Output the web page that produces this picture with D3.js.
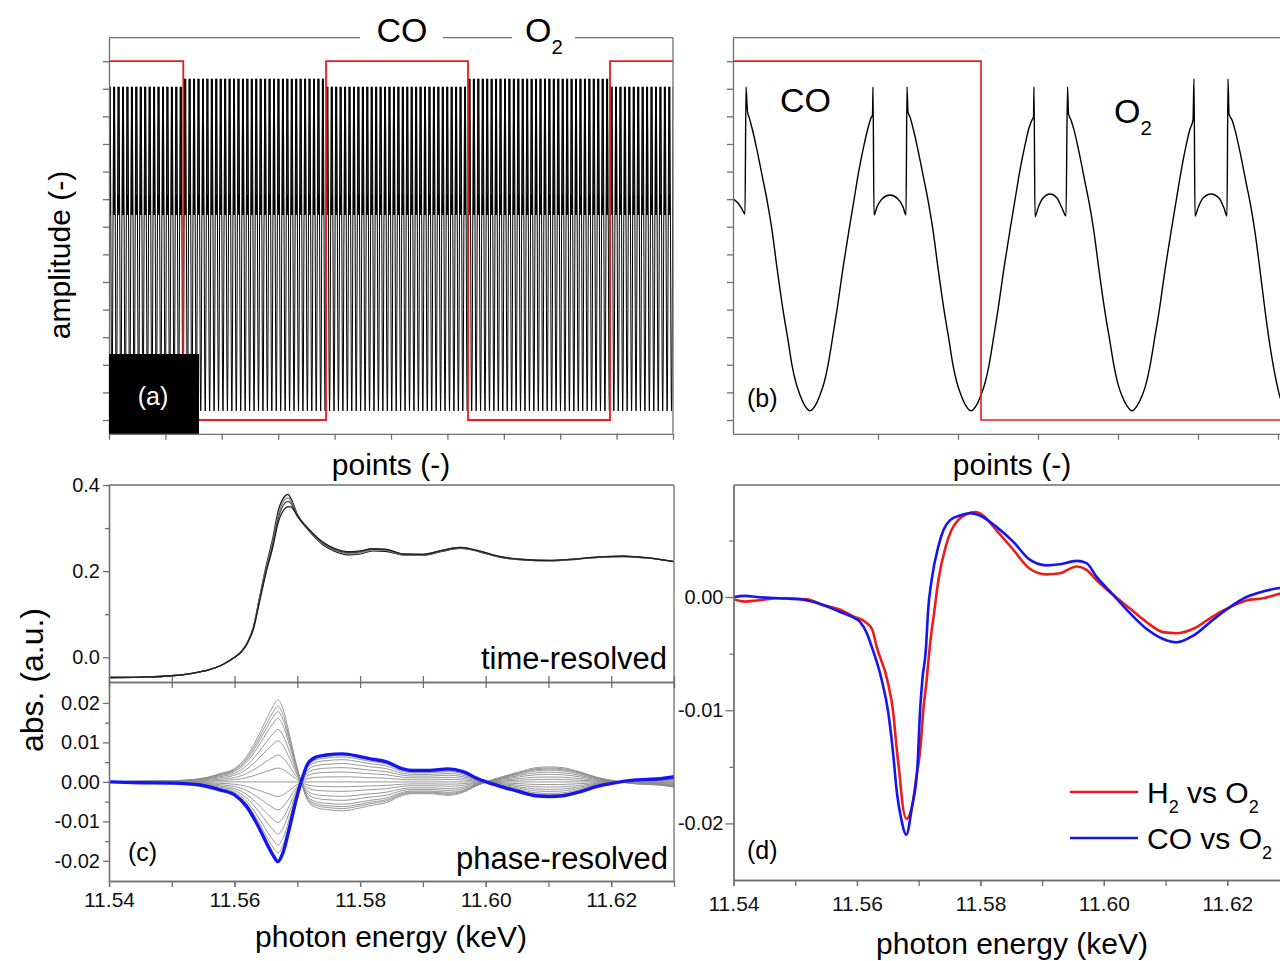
<!DOCTYPE html>
<html>
<head>
<meta charset="utf-8">
<script src="https://cdn.jsdelivr.net/npm/d3@7"></script>
<style>
  html, body { margin: 0; padding: 0; background: #fff; }
  svg { display: block; }
  text { white-space: pre; }
</style>
</head>
<body>
<svg id="fig" width="1280" height="961"></svg>
<script>
// ---------------- data ----------------

// (a) modulation record: one detector cycle (phase within the cycle, amplitude); null = spike top
const cyclePhase = [0, 0.062, 0.112, 0.168, 0.236, 0.311, 0.354, 0.385, 0.388, 0.394, 0.410, 0.441,
                    0.491, 0.540, 0.571, 0.593, 0.599, 0.606, 0.640, 0.683, 0.758, 0.826, 0.882, 0.932];
const cycleAmp   = [0.33, 0.91, 1.99, 3.99, 6.88, 9.42, 10.51, 11.05, null, 7.43, 7.72, 8.01,
                    8.15, 8.01, 7.72, 7.43, null, 11.05, 10.51, 9.42, 6.88, 3.99, 1.99, 0.91];
const spikeTop = { CO: 12.07, O2: 12.36 };
const aCyclePeriod = 7.875;      // points per cycle
const aFirstMin = 5.2;           // position of the first cycle minimum
const aGasStart = "CO";
const aGasSwitch = [131.7, 384.8, 636.5, 888.3];
const gasLevel = { CO: 13, O2: 0 };

// (b) single cycles, zoomed
const bPoints = [15, 20, 24, 27, 28, 29.5, 31, 34, 39, 45, 49, 54, 59, 65, 70, 74, 78, 82, 87, 92,
  97, 102, 106, 110, 115, 119, 125, 131, 136, 141, 146, 150, 153, 154.5, 155, 156, 159, 164, 172, 180,
  185, 188, 189, 190, 192, 195, 200, 206, 210, 215, 220, 226, 231, 235, 239, 243, 248, 253, 258, 263,
  267, 271, 276, 280, 286, 292, 297, 302, 307, 311, 314, 315.5, 316, 317, 320, 325, 332, 339, 344, 348,
  349.5, 350.5, 353, 356, 361, 367, 371, 376, 381, 387, 392, 396, 400, 404, 409, 414, 419, 424, 428, 432,
  437, 441, 447, 453, 458, 463, 468, 472, 475, 476, 477, 480, 485, 493, 501, 506, 509, 510, 511, 514,
  517, 522, 528, 532, 537, 542, 548, 553, 558, 562, 567, 572];
const bAmp = [8.01, 7.86, 7.64, 7.46, 12.07, 11.16, 10.98, 10.58, 9.78, 8.70, 7.97, 6.88, 5.51, 3.99, 2.90, 1.99, 1.34, 0.91, 0.51, 0.33,
  0.51, 0.91, 1.34, 1.99, 3.08, 3.99, 5.51, 6.88, 7.97, 9.06, 9.96, 10.58, 10.94, 11.05, 12.07, 7.43, 7.72, 8.01, 8.15, 8.01,
  7.72, 7.43, 12.07, 11.16, 10.98, 10.58, 9.78, 8.70, 7.97, 6.88, 5.51, 3.99, 2.90, 1.99, 1.34, 0.91, 0.51, 0.33, 0.51, 0.91,
  1.34, 1.99, 3.08, 3.99, 5.51, 6.88, 7.97, 9.06, 9.96, 10.58, 10.87, 10.98, 12.07, 7.36, 7.68, 8.04, 8.19, 8.04, 7.68, 7.39,
  12.07, 11.09, 10.87, 10.51, 9.71, 8.62, 7.90, 6.81, 5.43, 3.91, 2.83, 1.96, 1.30, 0.87, 0.51, 0.33, 0.51, 0.87, 1.30, 1.96,
  3.04, 3.91, 5.43, 6.81, 7.90, 8.99, 9.93, 10.54, 10.87, 12.36, 7.39, 7.68, 8.04, 8.19, 8.04, 7.68, 7.39, 12.36, 11.09, 10.87,
  10.51, 9.71, 8.62, 7.90, 6.81, 5.43, 3.70, 2.46, 1.45, 0.83, 0.47, 0.33];
const bGasSwitch = 263;

// (c) time-resolved spectra
const trEnergy = [11.540, 11.545, 11.550, 11.553, 11.556, 11.558, 11.560, 11.561, 11.562, 11.563,
  11.564, 11.565, 11.566, 11.567, 11.568, 11.5685, 11.569, 11.570, 11.572, 11.574,
  11.576, 11.578, 11.580, 11.582, 11.584, 11.587, 11.590, 11.593, 11.596, 11.599,
  11.602, 11.606, 11.610, 11.614, 11.618, 11.622, 11.626, 11.630];
const tr1 = [-0.047, -0.046, -0.043, -0.038, -0.029, -0.018, 0.000, 0.012, 0.033, 0.070,
  0.140, 0.210, 0.270, 0.342, 0.374, 0.378, 0.368, 0.332, 0.291, 0.262,
  0.246, 0.238, 0.240, 0.247, 0.246, 0.237, 0.237, 0.246, 0.253, 0.245,
  0.233, 0.226, 0.224, 0.227, 0.232, 0.234, 0.230, 0.222];
const tr2 = [-0.047, -0.046, -0.043, -0.038, -0.029, -0.018, 0.000, 0.012, 0.033, 0.069,
  0.138, 0.205, 0.263, 0.333, 0.366, 0.370, 0.362, 0.330, 0.292, 0.264,
  0.248, 0.240, 0.242, 0.249, 0.248, 0.238, 0.238, 0.247, 0.254, 0.246,
  0.234, 0.226, 0.224, 0.227, 0.232, 0.234, 0.230, 0.222];
const tr3 = [-0.047, -0.046, -0.043, -0.038, -0.029, -0.018, 0.000, 0.012, 0.032, 0.068,
  0.135, 0.200, 0.256, 0.325, 0.358, 0.362, 0.357, 0.329, 0.293, 0.266,
  0.250, 0.243, 0.245, 0.251, 0.250, 0.239, 0.239, 0.248, 0.255, 0.246,
  0.234, 0.227, 0.225, 0.228, 0.233, 0.235, 0.230, 0.222];
const tr4 = [-0.047, -0.046, -0.043, -0.038, -0.029, -0.018, 0.000, 0.011, 0.031, 0.065,
  0.130, 0.195, 0.250, 0.315, 0.345, 0.350, 0.349, 0.328, 0.295, 0.268,
  0.252, 0.245, 0.247, 0.252, 0.251, 0.240, 0.239, 0.248, 0.255, 0.247,
  0.235, 0.227, 0.225, 0.228, 0.233, 0.235, 0.231, 0.222];
const trColors = ["#151515", "#8a8a8a", "#4a4a4a", "#202020"];

// (c) phase-resolved spectra: reference (blue) spectrum and the peak value of each gray spectrum
const prEnergy = [11.540, 11.545, 11.550, 11.5545, 11.5576, 11.560, 11.5619, 11.5635, 11.5651, 11.5661,
  11.5669, 11.5677, 11.5688, 11.5698, 11.5706, 11.5717, 11.5730, 11.5746, 11.5772, 11.5800,
  11.5814, 11.5842, 11.5868, 11.5884, 11.5911, 11.5940, 11.5964, 11.5985, 11.6001, 11.6027,
  11.6054, 11.6080, 11.6102, 11.6123, 11.6150, 11.6176, 11.6203, 11.6240, 11.6277, 11.6300];
const prBlue = [0.0000, -0.0002, -0.0003, -0.0008, -0.0020, -0.0033, -0.0062, -0.0104, -0.0155, -0.0185,
  -0.0202, -0.0180, -0.0113, -0.0046, 0.0000, 0.0047, 0.0063, 0.0068, 0.0071, 0.0064,
  0.0059, 0.0051, 0.0033, 0.0029, 0.0029, 0.0033, 0.0026, 0.0010, 0.0000, -0.0013,
  -0.0025, -0.0035, -0.0037, -0.0035, -0.0025, -0.0012, -0.0003, 0.0005, 0.0008, 0.0013];
const prGrayPeak = [0.0208, 0.0192, 0.0178, 0.0161, 0.0133, 0.0104, 0.0068, 0.0035, 0.0000,
  -0.0037, -0.0071, -0.0103, -0.0132, -0.0160, -0.0180];

// (d) phase-resolved spectra for the two reductants
const dEnergyH2 = [11.5400, 11.5419, 11.5438, 11.5475, 11.5519, 11.5545, 11.5572, 11.5594, 11.5616, 11.5625,
  11.5632, 11.5649, 11.5659, 11.5664, 11.5670, 11.5672, 11.5680, 11.5690, 11.5696, 11.5703,
  11.5707, 11.5713, 11.5718, 11.5725, 11.5732, 11.5744, 11.5753, 11.5764, 11.5777, 11.5791,
  11.5799, 11.5826, 11.5853, 11.5880, 11.5907, 11.5929, 11.5956, 11.5972, 11.5988, 11.6015,
  11.6042, 11.6069, 11.6096, 11.6118, 11.6145, 11.6177, 11.6204, 11.6231, 11.6258, 11.6285, 11.6301];
const dH2 = [-0.0002, -0.0004, -0.0003, -0.0001, -0.0002, -0.0007, -0.0011, -0.0017, -0.0023, -0.0029,
  -0.0044, -0.0073, -0.0103, -0.0132, -0.0162, -0.0174, -0.0196, -0.0183, -0.0160, -0.0132,
  -0.0103, -0.0073, -0.0044, -0.0014, 0.0015, 0.0045, 0.0059, 0.0068, 0.0073, 0.0075,
  0.0074, 0.0059, 0.0042, 0.0025, 0.0020, 0.0021, 0.0027, 0.0024, 0.0015, 0.0002,
  -0.0010, -0.0022, -0.0031, -0.0032, -0.0028, -0.0017, -0.0009, -0.0003, -0.0001, 0.0003, 0.0005];
const dEnergyCO = [11.5400, 11.5419, 11.5438, 11.5475, 11.5519, 11.5545, 11.5572, 11.5594, 11.5605, 11.5616,
  11.5624, 11.5640, 11.5651, 11.5658, 11.5665, 11.5671, 11.5680, 11.5689, 11.5698, 11.5702,
  11.5706, 11.5712, 11.5715, 11.5721, 11.5732, 11.5740, 11.5751, 11.5767, 11.5783, 11.5799,
  11.5826, 11.5853, 11.5880, 11.5907, 11.5929, 11.5956, 11.5972, 11.5988, 11.6015, 11.6042,
  11.6069, 11.6096, 11.6118, 11.6145, 11.6177, 11.6204, 11.6231, 11.6258, 11.6285, 11.6301];
const dCO = [0.0000, 0.0001, 0.0000, -0.0001, -0.0003, -0.0007, -0.0013, -0.0018, -0.0022, -0.0032,
  -0.0044, -0.0073, -0.0103, -0.0135, -0.0174, -0.0194, -0.0210, -0.0186, -0.0150, -0.0103,
  -0.0073, -0.0044, -0.0014, 0.0015, 0.0045, 0.0059, 0.0068, 0.0072, 0.0074, 0.0072,
  0.0062, 0.0049, 0.0033, 0.0028, 0.0029, 0.0032, 0.0030, 0.0018, 0.0002, -0.0014,
  -0.0028, -0.0037, -0.0040, -0.0034, -0.0020, -0.0009, 0.0000, 0.0005, 0.0008, 0.0009];

// tick values
const aPointTicks = d3.range(0, 1001, 100);
const ampTicks = d3.range(0, 14);
const bPointTicks = d3.range(80, 561, 80);
const energyTicks = [11.54, 11.56, 11.58, 11.60, 11.62];
const energyMinorTicks = [11.54, 11.55, 11.56, 11.57, 11.58, 11.59, 11.60, 11.61, 11.62, 11.63];
const trTicks = [0.0, 0.2, 0.4];
const trMinorTicks = [0.1, 0.3];
const prTicks = [-0.02, -0.01, 0.00, 0.01, 0.02];
const prMinorTicks = [-0.015, -0.005, 0.005, 0.015];
const dTicks = [-0.02, -0.01, 0.00];
const dMinorTicks = [-0.015, -0.005, 0.005];

// ---------------- drawing ----------------
const FONT = "'Liberation Sans', Arial, Helvetica, sans-serif";
const AXC = "#6f6f6f";
const RED = "#ee1b1b";
const BLUE = "#1515f0";
const svg = d3.select("#fig");
const defs = svg.append("defs");

const xA = d3.scaleLinear().domain([0, 1000]).range([109, 673]);
const yAmp = d3.scaleLinear().domain([-0.5, 13.85]).range([433.8, 37.7]);
const xB = d3.scaleLinear().domain([15, 571]).range([733, 1289]);
const xC = d3.scaleLinear().domain([11.54, 11.63]).range([109, 674]);
const yCt = d3.scaleLinear().domain([-0.0575, 0.4]).range([682, 485]);
const yCb = d3.scaleLinear().domain([-0.0251, 0.0253]).range([881, 682]);
const xD = d3.scaleLinear().domain([11.54, 11.63]).range([733.5, 1289]);
const yD = d3.scaleLinear().domain([-0.025, 0.0099]).range([880, 485]);

function clip(id, x0, y0, x1, y1) {
  defs.append("clipPath").attr("id", id).append("rect")
    .attr("x", x0).attr("y", y0).attr("width", x1 - x0).attr("height", y1 - y0);
  return `url(#${id})`;
}
function drawAxis(gen, tx, ty, size) {
  const g = svg.append("g").attr("transform", `translate(${tx},${ty})`).call(gen);
  g.attr("font-family", FONT).attr("font-size", size || 20);
  g.select(".domain").attr("stroke", AXC).attr("stroke-width", 1.3);
  g.selectAll(".tick line").attr("stroke", AXC).attr("stroke-width", 1.3);
  g.selectAll(".tick text").attr("fill", "#111");
  return g;
}
function seg(x1, y1, x2, y2) {
  svg.append("line").attr("x1", x1).attr("y1", y1).attr("x2", x2).attr("y2", y2)
    .attr("stroke", AXC).attr("stroke-width", 1.3);
}
function richText(x, y, parts, size, opts) {
  opts = opts || {};
  const t = svg.append("text").attr("x", x).attr("y", y)
    .attr("font-family", FONT).attr("font-size", size)
    .attr("fill", opts.fill || "#000").attr("text-anchor", opts.anchor || "start");
  if (opts.rotate) t.attr("transform", `rotate(${opts.rotate},${x},${y})`);
  let low = false;
  parts.forEach(([s, sub]) => {
    const sp = t.append("tspan").text(s);
    if (sub && !low) { sp.attr("dy", size * 0.35).attr("font-size", size * 0.6); low = true; }
    else if (sub) { sp.attr("font-size", size * 0.6); }
    else if (low) { sp.attr("dy", -size * 0.35); low = false; }
  });
  return t;
}
const fmt2 = d => d.toFixed(2).replace("-0.00", "0.00");
const fmt1 = d => d.toFixed(1);

// ===== panel (a) =====
function gasAt(x, switches, start) {
  const n = switches.filter(s => s <= x).length;
  return (n % 2 === 0) ? start : (start === "CO" ? "O2" : "CO");
}
const aSeries = [];
for (let k = -1; aFirstMin + k * aCyclePeriod <= 1000 + aCyclePeriod; k++) {
  const c0 = aFirstMin + k * aCyclePeriod;
  cyclePhase.forEach((ph, i) => {
    const x = c0 + ph * aCyclePeriod;
    const amp = cycleAmp[i] === null ? spikeTop[gasAt(x, aGasSwitch, aGasStart)] : cycleAmp[i];
    aSeries.push([x, amp]);
  });
}
const clipA = clip("clipA", 109, 37, 673, 434);
svg.append("path").attr("clip-path", clipA)
  .attr("d", d3.line().x(d => xA(d[0])).y(d => yAmp(d[1]))(aSeries))
  .attr("fill", "none").attr("stroke", "#000").attr("stroke-width", 1.0);

const aGasSteps = [[0, aGasStart]];
aGasSwitch.forEach(s => aGasSteps.push([s, gasAt(s, aGasSwitch, aGasStart)]));
aGasSteps.push([1000, gasAt(1000, aGasSwitch, aGasStart)]);
svg.append("path").attr("clip-path", clipA)
  .attr("d", d3.line().curve(d3.curveStepAfter).x(d => xA(d[0])).y(d => yAmp(gasLevel[d[1]]))(aGasSteps))
  .attr("fill", "none").attr("stroke", RED).attr("stroke-width", 1.8);

drawAxis(d3.axisLeft(yAmp).tickValues(ampTicks).tickSize(6).tickSizeOuter(0).tickFormat(""), 109, 0);
drawAxis(d3.axisBottom(xA).tickValues(aPointTicks).tickSize(6).tickSizeOuter(0).tickFormat(""), 0, 433.8);
seg(109, 37.7, 360, 37.7);
seg(443, 37.7, 512, 37.7);
seg(575, 37.7, 673, 37.7);
seg(673, 37.7, 673, 433.8);

svg.append("rect").attr("x", 109).attr("y", 354).attr("width", 90).attr("height", 79.8).attr("fill", "#000");
richText(153, 405, [["(a)", false]], 25, { anchor: "middle", fill: "#fff" });
richText(402, 42, [["CO", false]], 34, { anchor: "middle" });
richText(525, 42, [["O", false], ["2", true]], 34);
richText(391, 475, [["points (-)", false]], 30, { anchor: "middle" });
richText(70, 255, [["amplitude (-)", false]], 30, { anchor: "middle", rotate: -90 });

// ===== panel (b) =====
const clipB = clip("clipB", 733, 37, 1289, 434);
const bSeries = bPoints.map((p, i) => [p, bAmp[i]]);
svg.append("path").attr("clip-path", clipB)
  .attr("d", d3.line().curve(d3.curveMonotoneX).x(d => xB(d[0])).y(d => yAmp(d[1]))(bSeries))
  .attr("fill", "none").attr("stroke", "#000").attr("stroke-width", 1.4);
const bGasSteps = [[15, "CO"], [bGasSwitch, "O2"], [571, "O2"]];
svg.append("path").attr("clip-path", clipB)
  .attr("d", d3.line().curve(d3.curveStepAfter).x(d => xB(d[0])).y(d => yAmp(gasLevel[d[1]]))(bGasSteps))
  .attr("fill", "none").attr("stroke", RED).attr("stroke-width", 1.6);

drawAxis(d3.axisLeft(yAmp).tickValues(ampTicks).tickSize(6).tickSizeOuter(0).tickFormat(""), 733, 0);
drawAxis(d3.axisBottom(xB).tickValues(bPointTicks).tickSize(6).tickSizeOuter(0).tickFormat(""), 0, 433.8);
seg(733, 37.7, 1289, 37.7);
richText(780, 112, [["CO", false]], 34);
richText(1114, 123, [["O", false], ["2", true]], 34);
richText(747, 407, [["(b)", false]], 25);
richText(1012, 475, [["points (-)", false]], 30, { anchor: "middle" });

// ===== panel (c), upper: time-resolved =====
const clipCt = clip("clipCt", 109, 485, 674, 682);
[tr1, tr2, tr3, tr4].forEach((vals, k) => {
  svg.append("path").attr("clip-path", clipCt)
    .attr("d", d3.line().curve(d3.curveMonotoneX).x((d, i) => xC(trEnergy[i])).y(d => yCt(d))(vals))
    .attr("fill", "none").attr("stroke", trColors[k]).attr("stroke-width", 1.3);
});
drawAxis(d3.axisLeft(yCt).tickValues(trTicks).tickSize(6).tickPadding(3).tickSizeOuter(0).tickFormat(fmt1), 109, 0);
drawAxis(d3.axisLeft(yCt).tickValues(trMinorTicks).tickSize(4).tickSizeOuter(0).tickFormat(""), 109, 0);
seg(109, 485, 674, 485);
seg(674, 485, 674, 682);
richText(667, 669, [["time-resolved", false]], 31, { anchor: "end" });

// shared boundary between the two stacked plots, ticks on both sides
drawAxis(d3.axisBottom(xC).tickValues(energyMinorTicks).tickSize(6).tickSizeOuter(0).tickFormat(""), 0, 682);
drawAxis(d3.axisTop(xC).tickValues(energyMinorTicks).tickSize(6).tickSizeOuter(0).tickFormat(""), 0, 682);

// ===== panel (c), lower: phase-resolved =====
const clipCb = clip("clipCb", 109, 682, 674, 881);
const blueMin = d3.min(prBlue);
prGrayPeak.forEach(pk => {
  const ratio = pk / blueMin;
  svg.append("path").attr("clip-path", clipCb)
    .attr("d", d3.line().curve(d3.curveMonotoneX).x((d, i) => xC(prEnergy[i])).y(d => yCb(d * ratio))(prBlue))
    .attr("fill", "none").attr("stroke", "#8c8c8c").attr("stroke-width", 0.9);
});
svg.append("path").attr("clip-path", clipCb)
  .attr("d", d3.line().curve(d3.curveMonotoneX).x((d, i) => xC(prEnergy[i])).y(d => yCb(d))(prBlue))
  .attr("fill", "none").attr("stroke", BLUE).attr("stroke-width", 3.4).attr("stroke-linejoin", "round");

drawAxis(d3.axisLeft(yCb).tickValues(prTicks).tickSize(6).tickPadding(3).tickSizeOuter(0).tickFormat(fmt2), 109, 0);
drawAxis(d3.axisLeft(yCb).tickValues(prMinorTicks).tickSize(4).tickSizeOuter(0).tickFormat(""), 109, 0);
drawAxis(d3.axisBottom(xC).tickValues(energyMinorTicks).tickSize(6).tickSizeOuter(0).tickFormat(""), 0, 881);
drawAxis(d3.axisBottom(xC).tickValues(energyTicks).tickSize(6).tickPadding(5).tickSizeOuter(0).tickFormat(fmt2), 0, 881, 21);
seg(674, 682, 674, 881);
richText(128, 861, [["(c)", false]], 25);
richText(668, 869, [["phase-resolved", false]], 31, { anchor: "end" });
richText(391, 947, [["photon energy (keV)", false]], 30, { anchor: "middle" });
richText(43, 680, [["abs. (a.u.)", false]], 32, { anchor: "middle", rotate: -90 });

// ===== panel (d) =====
const clipD = clip("clipD", 733.5, 485, 1289, 880);
const dLine = d3.line().curve(d3.curveMonotoneX).x(d => xD(d[0])).y(d => yD(d[1]));
svg.append("path").attr("clip-path", clipD)
  .attr("d", dLine(dEnergyH2.map((e, i) => [e, dH2[i]])))
  .attr("fill", "none").attr("stroke", RED).attr("stroke-width", 2.6).attr("stroke-linejoin", "round");
svg.append("path").attr("clip-path", clipD)
  .attr("d", dLine(dEnergyCO.map((e, i) => [e, dCO[i]])))
  .attr("fill", "none").attr("stroke", BLUE).attr("stroke-width", 2.6).attr("stroke-linejoin", "round");

drawAxis(d3.axisLeft(yD).tickValues(dTicks).tickSize(8).tickPadding(2).tickSizeOuter(0).tickFormat(fmt2), 733.5, 0);
drawAxis(d3.axisLeft(yD).tickValues(dMinorTicks).tickSize(4).tickSizeOuter(0).tickFormat(""), 733.5, 0);
drawAxis(d3.axisBottom(xD).tickValues(energyMinorTicks).tickSize(6).tickSizeOuter(0).tickFormat(""), 0, 880);
drawAxis(d3.axisBottom(xD).tickValues(energyTicks).tickSize(6).tickPadding(10).tickSizeOuter(0).tickFormat(fmt2), 0, 880, 21);
seg(733.5, 485, 1289, 485);
richText(747, 859, [["(d)", false]], 25);
richText(1012, 954, [["photon energy (keV)", false]], 30, { anchor: "middle" });

// legend
const legend = [
  { color: RED, y: 792, parts: [["H", false], ["2", true], [" vs O", false], ["2", true]] },
  { color: BLUE, y: 838, parts: [["CO vs O", false], ["2", true]] }
];
legend.forEach(l => {
  svg.append("line").attr("x1", 1070).attr("x2", 1138).attr("y1", l.y).attr("y2", l.y)
    .attr("stroke", l.color).attr("stroke-width", 2.6);
  richText(1147, l.y + 10.5, l.parts, 30);
});
</script>
</body>
</html>
